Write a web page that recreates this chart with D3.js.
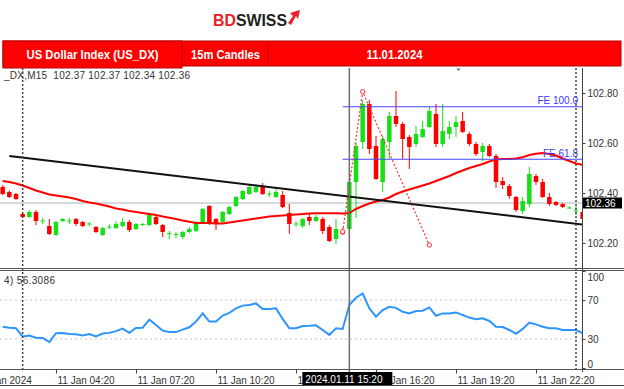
<!DOCTYPE html>
<html>
<head>
<meta charset="utf-8">
<script src="https://cdn.jsdelivr.net/npm/d3@7"></script>
<style>
  body { margin: 0; background: #fff; }
  svg { display: block; }
  text { font-family: "Liberation Sans", Arial, sans-serif; }
</style>
</head>
<body>
<svg width="624" height="389"></svg>
<script>
// ---- data (US_DX, M15, 11.01.2024) ----
const firstBar = "2024-01-11 02:20"; // time of the first candle, 15 min apart
// [open, high, low, close]
const candles = [
  [102.424, 102.432, 102.392, 102.396], [102.404, 102.410, 102.380, 102.384], [102.396, 102.400, 102.372, 102.376],
  [102.316, 102.320, 102.300, 102.304], [102.304, 102.332, 102.300, 102.324], [102.324, 102.332, 102.272, 102.288],
  [102.286, 102.300, 102.276, 102.290], [102.268, 102.296, 102.232, 102.236], [102.232, 102.288, 102.228, 102.284],
  [102.288, 102.300, 102.284, 102.296], [102.286, 102.300, 102.276, 102.290], [102.296, 102.300, 102.268, 102.276],
  [102.284, 102.288, 102.264, 102.268], [102.274, 102.284, 102.268, 102.278], [102.264, 102.268, 102.240, 102.244],
  [102.232, 102.264, 102.228, 102.260], [102.262, 102.276, 102.256, 102.266], [102.260, 102.288, 102.256, 102.276],
  [102.268, 102.300, 102.264, 102.284], [102.284, 102.292, 102.244, 102.252], [102.256, 102.280, 102.252, 102.276],
  [102.272, 102.280, 102.268, 102.276], [102.272, 102.320, 102.268, 102.316], [102.304, 102.312, 102.272, 102.276],
  [102.272, 102.276, 102.224, 102.244], [102.236, 102.248, 102.216, 102.240], [102.232, 102.244, 102.220, 102.236],
  [102.224, 102.248, 102.216, 102.244], [102.244, 102.264, 102.240, 102.256], [102.248, 102.288, 102.244, 102.284],
  [102.280, 102.340, 102.276, 102.336], [102.348, 102.352, 102.272, 102.280], [102.296, 102.300, 102.252, 102.276],
  [102.284, 102.328, 102.280, 102.324], [102.316, 102.348, 102.312, 102.344], [102.348, 102.388, 102.344, 102.384],
  [102.376, 102.412, 102.372, 102.408], [102.396, 102.436, 102.392, 102.424], [102.404, 102.436, 102.400, 102.424],
  [102.428, 102.440, 102.392, 102.396], [102.394, 102.408, 102.384, 102.398], [102.384, 102.416, 102.380, 102.404],
  [102.392, 102.408, 102.340, 102.344], [102.320, 102.356, 102.236, 102.276], [102.274, 102.288, 102.264, 102.278],
  [102.268, 102.300, 102.260, 102.296], [102.304, 102.316, 102.272, 102.288], [102.288, 102.312, 102.284, 102.304],
  [102.296, 102.304, 102.236, 102.248], [102.264, 102.272, 102.204, 102.208], [102.216, 102.296, 102.196, 102.256],
  [102.248, 102.260, 102.232, 102.236], [102.256, 102.456, 102.236, 102.444], [102.444, 102.604, 102.300, 102.588],
  [102.604, 102.772, 102.576, 102.756], [102.756, 102.772, 102.556, 102.576], [102.588, 102.628, 102.452, 102.456],
  [102.444, 102.628, 102.404, 102.616], [102.604, 102.724, 102.536, 102.708], [102.708, 102.808, 102.664, 102.676],
  [102.676, 102.684, 102.536, 102.616], [102.624, 102.632, 102.496, 102.584], [102.596, 102.668, 102.584, 102.636],
  [102.624, 102.688, 102.620, 102.656], [102.664, 102.744, 102.660, 102.728], [102.716, 102.756, 102.584, 102.596],
  [102.596, 102.756, 102.584, 102.648], [102.636, 102.688, 102.616, 102.664], [102.664, 102.708, 102.624, 102.684],
  [102.688, 102.724, 102.640, 102.644], [102.636, 102.644, 102.588, 102.596], [102.596, 102.604, 102.548, 102.556],
  [102.564, 102.600, 102.528, 102.588], [102.588, 102.596, 102.544, 102.548], [102.548, 102.556, 102.420, 102.444],
  [102.448, 102.464, 102.416, 102.432], [102.428, 102.436, 102.376, 102.388], [102.384, 102.388, 102.324, 102.332],
  [102.328, 102.384, 102.316, 102.368], [102.356, 102.504, 102.344, 102.476], [102.468, 102.476, 102.432, 102.444],
  [102.444, 102.456, 102.380, 102.384], [102.384, 102.400, 102.348, 102.356], [102.364, 102.368, 102.348, 102.352],
  [102.356, 102.360, 102.340, 102.344], [102.338, 102.348, 102.336, 102.342], [102.326, 102.348, 102.312, 102.330],
  [102.324, 102.336, 102.292, 102.296]
];
// moving average (red line), one value per candle
const maValues = [
  102.448, 102.444, 102.438, 102.430, 102.420, 102.410, 102.402, 102.394, 102.390, 102.386, 102.382, 102.376,
  102.368, 102.362, 102.358, 102.352, 102.346, 102.338, 102.334, 102.328, 102.324, 102.320, 102.316, 102.312,
  102.306, 102.301, 102.296, 102.290, 102.285, 102.280, 102.280, 102.280, 102.278, 102.278, 102.282, 102.286,
  102.290, 102.294, 102.298, 102.302, 102.306, 102.308, 102.310, 102.312, 102.314, 102.316, 102.318, 102.319,
  102.319, 102.319, 102.319, 102.318, 102.320, 102.336, 102.348, 102.358, 102.366, 102.372, 102.382, 102.396,
  102.406, 102.414, 102.422, 102.430, 102.438, 102.448, 102.458, 102.468, 102.480, 102.490, 102.500, 102.508,
  102.516, 102.526, 102.534, 102.536, 102.536, 102.538, 102.543, 102.552, 102.557, 102.560, 102.556, 102.550,
  102.538, 102.528, 102.518, 102.512
];
// RSI, one value per candle
const rsiValues = [
  42.6, 41.6, 41.0, 32.4, 33.4, 31.3, 31.0, 26.6, 35.8, 36.0, 35.0, 34.8, 33.5, 35.0, 32.6, 35.6, 36.2, 38.0,
  40.6, 36.2, 41.3, 41.6, 49.9, 44.4, 38.7, 37.0, 37.0, 39.5, 42.0, 47.9, 56.4, 47.9, 47.9, 54.0, 56.8, 61.5,
  64.3, 65.0, 66.6, 60.8, 60.8, 61.5, 50.6, 41.0, 41.0, 43.3, 43.5, 44.0, 39.2, 34.1, 41.0, 40.3, 64.9, 72.4,
  76.8, 61.5, 52.9, 59.7, 63.1, 62.0, 58.0, 56.3, 58.7, 59.0, 62.4, 53.9, 56.3, 56.3, 57.3, 54.7, 52.0, 50.3,
  51.3, 48.5, 42.6, 42.3, 39.2, 35.2, 40.3, 46.7, 45.0, 42.6, 41.0, 41.0, 39.2, 39.2, 39.2, 35.9
];
const trendLine = [{t: "2024-01-11 02:35", p: 102.548}, {t: "2024-01-12 00:05", p: 102.274}];
const fiboPoints = [{t: "2024-01-11 15:05", p: 102.245}, {t: "2024-01-11 15:50", p: 102.805}, {t: "2024-01-11 18:20", p: 102.192}];
const feLevels = [{label: "FE 100.0", p: 102.745}, {label: "FE 61.8", p: 102.535}];
const lastPrice = 102.36;
const priceTicks = [102.2, 102.4, 102.6, 102.8];
const rsiTicks = [0, 30, 70, 100];
const rsiLevels = [30, 70];
const timeTicks = ["2024-01-11 01:20", "2024-01-11 04:20", "2024-01-11 07:20", "2024-01-11 10:20",
                   "2024-01-11 13:20", "2024-01-11 16:20", "2024-01-11 19:20", "2024-01-11 22:20"];
const separators = ["2024-01-11 03:05", "2024-01-11 23:50"];
const crossTime = "2024-01-11 15:20";

// ---- setup ----
const svg = d3.select("svg");
const parse = d3.timeParse("%Y-%m-%d %H:%M");
const plotRight = 582;
const mainTop = 68, mainBottom = 268, rsiTop = 270, rsiBottom = 369;

const x = d3.scaleTime()
  .domain([parse("2024-01-11 01:20"), parse("2024-01-11 22:20")])
  .range([-24, 536]);
const y = d3.scaleLinear().domain([102.2, 102.8]).range([243, 93]);
const yr = d3.scaleLinear().domain([0, 100]).range([368, 271]);

const t0 = parse(firstBar);
const bars = candles.map((c, k) => ({
  t: d3.timeMinute.offset(t0, 15 * k), o: c[0], h: c[1], l: c[2], c: c[3],
  ma: maValues[k], rsi: rsiValues[k]
}));

const defs = svg.append("defs");
defs.append("clipPath").attr("id", "clipMain").append("rect")
  .attr("x", 0).attr("y", mainTop).attr("width", plotRight).attr("height", mainBottom - mainTop);
defs.append("clipPath").attr("id", "clipRsi").append("rect")
  .attr("x", 0).attr("y", rsiTop).attr("width", plotRight).attr("height", rsiBottom - rsiTop);

// ---- logo ----
const logo = svg.append("text").attr("x", 213).attr("y", 26)
  .attr("font-size", 16.5).attr("font-weight", "bold")
  .attr("textLength", 74).attr("lengthAdjust", "spacingAndGlyphs");
logo.append("tspan").attr("fill", "#e8202a").text("BD");
logo.append("tspan").attr("fill", "#231f20").text("SWISS");
svg.append("path")
  .attr("d", "M288,23 L293,16 L290,13 L300,10 L298,19 L296,16 L291,25 Z")
  .attr("fill", "#e8202a");

// ---- title bar ----
svg.append("rect").attr("x", 3).attr("y", 41).attr("width", 618).attr("height", 25)
  .attr("fill", "#ff0000").attr("stroke", "#b80000").attr("stroke-width", 1);
svg.append("rect").attr("x", 3).attr("y", 41).attr("width", 179).attr("height", 27)
  .attr("fill", "#ff0000").attr("stroke", "#b80000").attr("stroke-width", 1);
[268].forEach(d => svg.append("line").attr("x1", d).attr("x2", d).attr("y1", 41).attr("y2", 66)
  .attr("stroke", "#c80000"));
const titles = [
  {text: "US Dollar Index (US_DX)", cx: 92.5, len: 132},
  {text: "15m Candles", cx: 225.5, len: 69},
  {text: "11.01.2024", cx: 394.5, len: 56}
];
svg.selectAll(".title").data(titles).join("text")
  .attr("x", d => d.cx - d.len / 2).attr("y", 58.5)
  .attr("textLength", d => d.len).attr("lengthAdjust", "spacingAndGlyphs")
  .attr("font-size", 12.5).attr("font-weight", "bold").attr("fill", "#fff")
  .text(d => d.text);

// ---- main panel ----
const main = svg.append("g").attr("clip-path", "url(#clipMain)");

main.append("line")   // bid line
  .attr("x1", 0).attr("x2", plotRight).attr("y1", y(lastPrice)).attr("y2", y(lastPrice))
  .attr("stroke", "#a8b3c0").attr("stroke-width", 1.2);

const bw = 4.5;
const cg = main.selectAll(".candle").data(bars).join("g")
  .attr("fill", d => d.c >= d.o ? "#16e016" : "#ff0000")
  .attr("stroke", d => d.c >= d.o ? "#16e016" : "#ff0000");
cg.append("line")
  .attr("x1", d => x(d.t)).attr("x2", d => x(d.t))
  .attr("y1", d => y(d.h)).attr("y2", d => y(d.l)).attr("stroke-width", 1);
cg.append("rect")
  .attr("x", d => x(d.t) - bw / 2).attr("width", bw)
  .attr("y", d => y(Math.max(d.o, d.c)))
  .attr("height", d => Math.max(1, Math.abs(y(d.o) - y(d.c))))
  .attr("stroke", "none");

const maLine = d3.line().x(d => x(d.t)).y(d => y(d.ma));
main.append("path").attr("d", maLine(bars))
  .attr("fill", "none").attr("stroke", "#ff0000").attr("stroke-width", 2);

main.append("line")
  .attr("x1", x(parse(trendLine[0].t))).attr("y1", y(trendLine[0].p))
  .attr("x2", x(parse(trendLine[1].t))).attr("y2", y(trendLine[1].p))
  .attr("stroke", "#111").attr("stroke-width", 2);

// fibo expansion
const fx1 = x(parse(fiboPoints[0].t));
main.selectAll(".fe").data(feLevels).join("line")
  .attr("x1", fx1).attr("x2", plotRight)
  .attr("y1", d => y(d.p)).attr("y2", d => y(d.p))
  .attr("stroke", "#4646ff").attr("stroke-width", 1.2);
main.selectAll(".feText").data(feLevels).join("text")
  .attr("x", 578).attr("y", d => y(d.p) - 2.5).attr("text-anchor", "end")
  .attr("font-size", 10).attr("fill", "#3a3aff").text(d => d.label);
const fLine = d3.line().x(d => x(parse(d.t))).y(d => y(d.p));
main.append("path").attr("d", fLine(fiboPoints))
  .attr("fill", "none").attr("stroke", "#ff3030").attr("stroke-width", 1.2)
  .attr("stroke-dasharray", "2,2");
main.selectAll(".fp").data(fiboPoints).join("circle")
  .attr("cx", d => x(parse(d.t))).attr("cy", d => y(d.p)).attr("r", 2.2)
  .attr("fill", "#fff").attr("stroke", "#ff3030").attr("stroke-width", 1);

main.append("path").attr("d", "M456.5,68.5 L460.5,68.5 L458.5,71 Z").attr("fill", "#666");

svg.append("text").attr("x", 4).attr("y", 78.5).attr("font-size", 10).attr("fill", "#333")
  .attr("xml:space", "preserve").attr("textLength", 186).attr("lengthAdjust", "spacing")
  .text("_DX,M15  102.37 102.37 102.34 102.36");

// ---- RSI panel ----
const rsi = svg.append("g").attr("clip-path", "url(#clipRsi)");
rsi.selectAll(".lvl").data(rsiLevels).join("line")
  .attr("x1", 0).attr("x2", plotRight).attr("y1", d => yr(d)).attr("y2", d => yr(d))
  .attr("stroke", "#c4c4c4").attr("stroke-dasharray", "2,3");
const rsiLine = d3.line().x(d => x(d.t)).y(d => yr(d.rsi));
rsi.append("path").attr("d", rsiLine(bars))
  .attr("fill", "none").attr("stroke", "#2d95ff").attr("stroke-width", 2);
svg.append("text").attr("x", 4).attr("y", 283.5).attr("font-size", 10).attr("fill", "#333")
  .attr("textLength", 51).attr("lengthAdjust", "spacing")
  .text("4) 56.3086");

// ---- vertical lines ----
separators.forEach(s => svg.append("line")
  .attr("x1", x(parse(s))).attr("x2", x(parse(s))).attr("y1", mainTop).attr("y2", 371)
  .attr("stroke", "#444").attr("stroke-width", 1.5).attr("stroke-dasharray", "2,2"));
svg.append("line")
  .attr("x1", x(parse(crossTime))).attr("x2", x(parse(crossTime))).attr("y1", mainTop).attr("y2", 372)
  .attr("stroke", "#6e6e6e").attr("stroke-width", 1.5);

// ---- frames ----
[mainBottom, rsiTop].forEach(v => svg.append("line")
  .attr("x1", 0).attr("x2", 624).attr("y1", v + 0.5).attr("y2", v + 0.5).attr("stroke", "#555"));
svg.append("line").attr("x1", 0).attr("x2", 624).attr("y1", rsiBottom + 0.5).attr("y2", rsiBottom + 0.5)
  .attr("stroke", "#555");
svg.append("line").attr("x1", 0).attr("x2", 624).attr("y1", 385.5).attr("y2", 385.5).attr("stroke", "#444");
svg.append("line").attr("x1", plotRight + 0.5).attr("x2", plotRight + 0.5).attr("y1", mainTop).attr("y2", 372)
  .attr("stroke", "#444");

// ---- axes ----
const pAxis = svg.append("g").attr("transform", `translate(${plotRight + 0.5},0)`)
  .call(d3.axisRight(y).tickValues(priceTicks).tickSize(3).tickPadding(2).tickFormat(d3.format(".2f")));
const rAxis = svg.append("g").attr("transform", `translate(${plotRight + 0.5},0)`)
  .call(d3.axisRight(yr).tickValues(rsiTicks).tickSize(3).tickPadding(2));
rAxis.selectAll(".tick text").attr("dy", d => d === 100 ? "0.95em" : d === 0 ? "-0.05em" : "0.32em");
const tAxis = svg.append("g").attr("transform", `translate(0,${rsiBottom + 0.5})`)
  .call(d3.axisBottom(x).tickValues(timeTicks.map(parse)).tickSize(4).tickPadding(3)
    .tickFormat((d, i) => i === 0 ? "11 Jan 2024" : d3.timeFormat("%d %b %H:%M")(d)));
tAxis.selectAll(".tick text").attr("text-anchor", "start").attr("x", 1);
[pAxis, rAxis, tAxis].forEach(a => {
  a.select(".domain").remove();
  a.selectAll("text").attr("font-size", 10).attr("fill", "#333")
    .attr("font-family", "'Liberation Sans', Arial, sans-serif");
  a.selectAll("line").attr("stroke", "#444");
});

// ---- price / time labels ----
svg.append("rect").attr("x", plotRight + 1).attr("y", y(lastPrice) - 5.5).attr("width", 39).attr("height", 11)
  .attr("fill", "#000");
svg.append("text").attr("x", plotRight + 3).attr("y", y(lastPrice) + 3.6)
  .attr("font-size", 10).attr("fill", "#fff").text(d3.format(".2f")(lastPrice));
const cx = x(parse(crossTime));
svg.append("rect").attr("x", cx - 47).attr("y", 372).attr("width", 90).attr("height", 13).attr("fill", "#000");
svg.append("text").attr("x", cx - 44).attr("y", 382.5).attr("font-size", 10).attr("fill", "#fff")
  .text(d3.timeFormat("%Y.%m.%d %H:%M")(parse(crossTime)));
</script>
</body>
</html>
